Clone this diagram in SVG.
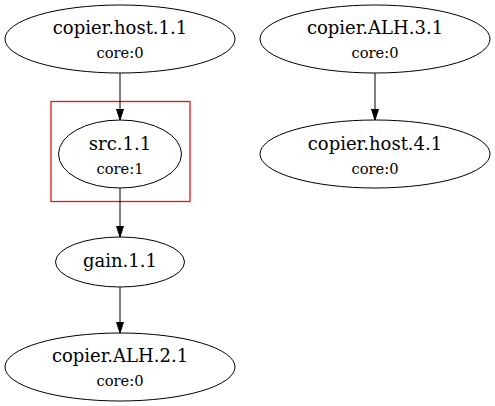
<svg xmlns="http://www.w3.org/2000/svg" width="495" height="406" viewBox="0 0 495 406">
<style>
.n ellipse{fill:none;stroke:#000;stroke-width:1}
.t{font-family:"DejaVu Serif",serif;font-size:18px;text-anchor:middle;fill:#000}
.s{font-family:"DejaVu Serif",serif;font-size:14.7px;text-anchor:middle;fill:#000}
.e{stroke:#000;stroke-width:1;fill:none}
</style>
<defs>
<marker id="arr" markerWidth="11" markerHeight="8" refX="11" refY="4" orient="auto" markerUnits="userSpaceOnUse">
<polygon points="0,0.5 11,4 0,7.5" fill="#000" stroke="#000"/>
</marker>
</defs>
<rect x="51" y="101.5" width="139" height="100" fill="none" stroke="#ee1111" stroke-width="1.3"/>
<g id="edges">
<line class="e" x1="120" y1="73" x2="120" y2="120" marker-end="url(#arr)"/>
<line class="e" x1="120" y1="188" x2="120" y2="237" marker-end="url(#arr)"/>
<line class="e" x1="120" y1="287" x2="120" y2="333" marker-end="url(#arr)"/>
<line class="e" x1="375" y1="73" x2="375" y2="120" marker-end="url(#arr)"/>
</g>
<g id="copier_host_1_1" class="n">
<ellipse cx="120" cy="39" rx="115" ry="34"/>
<text class="t" x="120" y="34">copier.host.1.1</text>
<text class="s" x="120" y="58">core:0</text>
</g>
<g id="src_1_1" class="n">
<ellipse cx="120" cy="154" rx="61.5" ry="34"/>
<text class="t" x="120" y="150">src.1.1</text>
<text class="s" x="120" y="173.5">core:1</text>
</g>
<g id="gain_1_1" class="n">
<ellipse cx="120" cy="262" rx="64.5" ry="25"/>
<text class="t" x="120" y="267">gain.1.1</text>
</g>
<g id="copier_ALH_2_1" class="n">
<ellipse cx="120" cy="367" rx="115" ry="34"/>
<text class="t" x="120" y="362">copier.ALH.2.1</text>
<text class="s" x="120" y="385.5">core:0</text>
</g>
<g id="copier_ALH_3_1" class="n">
<ellipse cx="375" cy="39" rx="115" ry="34"/>
<text class="t" x="375" y="34">copier.ALH.3.1</text>
<text class="s" x="375" y="58">core:0</text>
</g>
<g id="copier_host_4_1" class="n">
<ellipse cx="375" cy="154" rx="115" ry="34"/>
<text class="t" x="375" y="150">copier.host.4.1</text>
<text class="s" x="375" y="173.5">core:0</text>
</g>
</svg>
